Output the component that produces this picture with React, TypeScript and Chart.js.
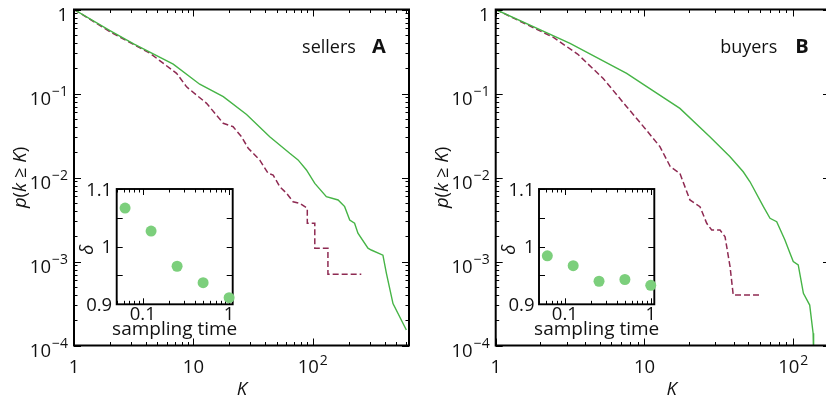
import React, { useEffect, useRef } from "react";
import { Chart, registerables } from "chart.js";
Chart.register(...registerables);

const FONT = "'Open Sans', 'DejaVu Sans', sans-serif";
const GREEN = "#46b446";
const RED = "#8e2a52";
const DOT = "#7ccf7c";

// Panel A: sellers
const sellersGreenK = [1, 2.0, 3.16, 6.78, 11.3, 17.8, 27.9, 43.6, 64.1, 75.3, 88.5, 104, 130, 163, 185, 204, 224, 239, 290, 309, 387, 414, 470, 608];
const sellersGreenP = [1, 0.562, 0.389, 0.224, 0.129, 0.0916, 0.0562, 0.0306, 0.0194, 0.0162, 0.0123, 0.00851, 0.00592, 0.0054, 0.0045, 0.00312, 0.00285, 0.00217, 0.00144, 0.00137, 0.00119, 0.000724, 0.000316, 0.000153];
const sellersRedK = [1, 2.0, 4.33, 7.23, 8.77, 12.9, 17.8, 21.5, 25.3, 28.8, 36.0, 42.3, 46.6, 53.0, 60.3, 68.4, 77.8, 90, 90, 104, 104, 134, 134, 255];
const sellersRedP = [1, 0.545, 0.301, 0.174, 0.12, 0.0764, 0.0442, 0.0403, 0.0306, 0.0223, 0.0161, 0.0112, 0.0107, 0.00776, 0.00649, 0.00515, 0.00493, 0.0043, 0.00285, 0.00285, 0.00144, 0.00144, 0.000703, 0.000703];

// Panel B: buyers
const buyersGreenK = [1, 3.16, 7.59, 10, 17.3, 27.5, 37.6, 46.1, 51.2, 63.0, 69.8, 77.4, 87.9, 95.1, 100, 108, 117, 129, 136, 137];
const buyersGreenP = [1, 0.396, 0.174, 0.126, 0.0665, 0.0306, 0.0177, 0.0117, 0.0089, 0.0045, 0.00327, 0.00298, 0.0018, 0.00125, 0.001, 0.000912, 0.000418, 0.000303, 0.00014, 0.0000794];
const buyersRedK = [1, 1.58, 2.43, 3.55, 5.28, 7.59, 10.3, 12.7, 14.9, 17.3, 20.2, 23.6, 26.2, 28.3, 32.2, 34.8, 37.6, 39.5, 61.2];
const buyersRedP = [1, 0.676, 0.468, 0.295, 0.151, 0.0697, 0.0367, 0.0233, 0.0135, 0.0112, 0.0054, 0.0045, 0.00285, 0.00237, 0.00237, 0.00197, 0.000867, 0.000399, 0.000399];

// Insets
const samplingTime = [0.0625, 0.125, 0.25, 0.5, 1];
const sellersDelta = [1.067, 1.027, 0.966, 0.9375, 0.9115];
const buyersDelta = [0.984, 0.967, 0.94, 0.943, 0.933];

// Tick labels
const mainXTickValues = [1, 10, 100];
const mainXTickBase = ["1", "10", "10"];
const mainXTickExp = ["", "", "2"];
const mainYTickValues = [1, 0.1, 0.01, 0.001, 0.0001];
const mainYTickBase = ["1", "10", "10", "10", "10"];
const mainYTickExp = ["", "\u22121", "\u22122", "\u22123", "\u22124"];
const insetXTickValues = [0.1, 1];
const insetXTickLabels = ["0.1", "1"];
const insetYTickValues = [0.9, 1, 1.1];
const insetYTickLabels = ["0.9", "1", "1.1"];
const insetYMinor = [0.95, 1.05];

const TICK_SIZE = 18.5;
const SUP_SIZE = 14;

function logTicks(min: number, max: number) {
  const out: { v: number; major: boolean }[] = [];
  for (let d = Math.floor(Math.log10(min)) - 1; d <= Math.ceil(Math.log10(max)); d++) {
    for (let m = 1; m <= 9; m++) {
      const v = m * Math.pow(10, d);
      if (v >= min * 0.9999 && v <= max * 1.0001) out.push({ v, major: m === 1 });
    }
  }
  return out;
}

function drawPow(ctx: CanvasRenderingContext2D, base: string, exp: string, x: number, baseline: number, align: string) {
  ctx.font = `${TICK_SIZE}px ${FONT}`;
  const wb = ctx.measureText(base).width;
  let we = 0;
  if (exp) {
    ctx.font = `${SUP_SIZE}px ${FONT}`;
    we = ctx.measureText(exp).width + 1;
  }
  const total = wb + we;
  const x0 = align === "left" ? x : align === "right" ? x - total : x - total / 2;
  ctx.textAlign = "left";
  ctx.textBaseline = "alphabetic";
  ctx.font = `${TICK_SIZE}px ${FONT}`;
  ctx.fillText(base, x0, baseline);
  if (exp) {
    ctx.font = `${SUP_SIZE}px ${FONT}`;
    ctx.fillText(exp, x0 + wb + 1, baseline - 8.5);
  }
}

type MainProps = {
  left: number;
  width: number;
  pad: { left: number; top: number; right: number; bottom: number };
  xMax: number;
  greenK: number[];
  greenP: number[];
  redK: number[];
  redP: number[];
  title: string;
  letter: string;
  titleX: number;
  letterX: number;
  kX: number;
};

function MainPanel(p: MainProps) {
  const ref = useRef<HTMLCanvasElement>(null);
  useEffect(() => {
    const canvas = ref.current!;
    const plugin = {
      id: "mainFrame",
      afterDraw(chart: any) {
        const ctx: CanvasRenderingContext2D = chart.ctx;
        const a = chart.chartArea;
        const xs = chart.scales.x;
        const ys = chart.scales.y;
        ctx.save();
        ctx.strokeStyle = "#000";
        ctx.fillStyle = "#111";
        ctx.lineWidth = 1;
        ctx.beginPath();
        for (const t of logTicks(1, p.xMax)) {
          const x = Math.round(xs.getPixelForValue(t.v)) + 0.5;
          const len = t.major ? 7 : 3.5;
          ctx.moveTo(x, a.bottom);
          ctx.lineTo(x, a.bottom - len);
          ctx.moveTo(x, a.top);
          ctx.lineTo(x, a.top + len);
        }
        for (const t of logTicks(1e-4, 1)) {
          const y = Math.round(ys.getPixelForValue(t.v)) + 0.5;
          const len = t.major ? 7 : 3.5;
          ctx.moveTo(a.left, y);
          ctx.lineTo(a.left + len, y);
          ctx.moveTo(a.right, y);
          ctx.lineTo(a.right - len, y);
        }
        ctx.stroke();
        ctx.lineWidth = 2;
        ctx.strokeRect(a.left, a.top, a.right - a.left, a.bottom - a.top);

        mainXTickValues.forEach((v, i) => {
          drawPow(ctx, mainXTickBase[i], mainXTickExp[i], xs.getPixelForValue(v), a.bottom + 27.5, "center");
        });
        mainYTickValues.forEach((v, i) => {
          drawPow(ctx, mainYTickBase[i], mainYTickExp[i], a.left - 6, ys.getPixelForValue(v) + 11, "right");
        });

        // x-axis title
        ctx.font = `italic ${TICK_SIZE}px ${FONT}`;
        ctx.textAlign = "center";
        ctx.textBaseline = "alphabetic";
        ctx.fillText("K", p.kX, 395);

        // y-axis title
        const segs: [string, boolean][] = [["p", true], ["(", false], ["k", true], [" \u2265 ", false], ["K", true], [")", false]];
        ctx.save();
        ctx.translate(a.left - 53, 177.5);
        ctx.rotate(-Math.PI / 2);
        let total = 0;
        const widths = segs.map(([s, it]) => {
          ctx.font = `${it ? "italic " : ""}${TICK_SIZE}px ${FONT}`;
          const w = ctx.measureText(s).width;
          total += w;
          return w;
        });
        let cx = -total / 2;
        ctx.textAlign = "left";
        ctx.textBaseline = "middle";
        segs.forEach(([s, it], i) => {
          ctx.font = `${it ? "italic " : ""}${TICK_SIZE}px ${FONT}`;
          ctx.fillText(s, cx, 0);
          cx += widths[i];
        });
        ctx.restore();

        // panel title
        ctx.textAlign = "center";
        ctx.textBaseline = "alphabetic";
        ctx.font = `18px ${FONT}`;
        ctx.fillText(p.title, p.titleX, 53);
        ctx.font = `bold 20px ${FONT}`;
        ctx.fillText(p.letter, p.letterX, 53);
        ctx.restore();
      },
    };
    const chart = new Chart(canvas, {
      type: "line",
      data: {
        datasets: [
          {
            data: p.greenK.map((k, i) => ({ x: k, y: p.greenP[i] })),
            borderColor: GREEN,
            borderWidth: 1.4,
            pointRadius: 0,
            fill: false,
            tension: 0,
          },
          {
            data: p.redK.map((k, i) => ({ x: k, y: p.redP[i] })),
            borderColor: RED,
            borderWidth: 1.5,
            borderDash: [6, 3],
            pointRadius: 0,
            fill: false,
            tension: 0,
          },
        ],
      },
      options: {
        responsive: false,
        maintainAspectRatio: false,
        animation: false,
        events: [],
        layout: { padding: p.pad },
        plugins: { legend: { display: false }, tooltip: { enabled: false } },
        scales: {
          x: { type: "logarithmic", min: 1, max: p.xMax, display: false },
          y: { type: "logarithmic", min: 1e-4, max: 1, display: false },
        },
      } as any,
      plugins: [plugin],
    });
    return () => chart.destroy();
  }, []);
  return (
    <canvas
      ref={ref}
      width={p.width}
      height={404}
      style={{ position: "absolute", left: p.left, top: 0, width: p.width, height: 404 }}
    />
  );
}

type InsetProps = {
  left: number;
  top: number;
  pad: { left: number; top: number; right: number; bottom: number };
  delta: number[];
};

function Inset(p: InsetProps) {
  const ref = useRef<HTMLCanvasElement>(null);
  useEffect(() => {
    const canvas = ref.current!;
    const plugin = {
      id: "insetFrame",
      beforeDatasetsDraw(chart: any) {
        const ctx: CanvasRenderingContext2D = chart.ctx;
        const a = chart.chartArea;
        const xs = chart.scales.x;
        const ys = chart.scales.y;
        ctx.save();
        ctx.fillStyle = "#fff";
        ctx.fillRect(a.left, a.top, a.right - a.left, a.bottom - a.top);
        ctx.strokeStyle = "#000";
        ctx.lineWidth = 1;
        ctx.beginPath();
        for (const t of logTicks(0.05, 1.1)) {
          const x = Math.round(xs.getPixelForValue(t.v)) + 0.5;
          const len = t.major ? 6 : 3.5;
          ctx.moveTo(x, a.bottom);
          ctx.lineTo(x, a.bottom - len);
          ctx.moveTo(x, a.top);
          ctx.lineTo(x, a.top + len);
        }
        for (const v of [...insetYTickValues, ...insetYMinor]) {
          const y = Math.round(ys.getPixelForValue(v)) + 0.5;
          ctx.moveTo(a.left, y);
          ctx.lineTo(a.left + 6, y);
          ctx.moveTo(a.right, y);
          ctx.lineTo(a.right - 6, y);
        }
        ctx.stroke();
        ctx.lineWidth = 1.9;
        ctx.strokeRect(a.left, a.top, a.right - a.left, a.bottom - a.top);
        ctx.restore();
      },
      afterDraw(chart: any) {
        const ctx: CanvasRenderingContext2D = chart.ctx;
        const a = chart.chartArea;
        const xs = chart.scales.x;
        const ys = chart.scales.y;
        ctx.save();
        ctx.fillStyle = "#111";
        ctx.font = `${TICK_SIZE}px ${FONT}`;
        ctx.textBaseline = "alphabetic";
        ctx.textAlign = "right";
        insetYTickValues.forEach((v, i) => {
          ctx.fillText(insetYTickLabels[i], a.left - 4.5, ys.getPixelForValue(v) + 6.5);
        });
        ctx.textAlign = "center";
        insetXTickValues.forEach((v, i) => {
          ctx.fillText(insetXTickLabels[i], xs.getPixelForValue(v), a.bottom + 16);
        });
        ctx.font = `19px ${FONT}`;
        ctx.fillText("sampling time", (a.left + a.right) / 2, a.bottom + 31);
        ctx.save();
        ctx.translate(a.left - 29, (a.top + a.bottom) / 2 + 3);
        ctx.rotate(-Math.PI / 2);
        ctx.font = `italic ${TICK_SIZE}px ${FONT}`;
        ctx.textBaseline = "middle";
        ctx.fillText("\u03b4", 0, 0);
        ctx.restore();
        ctx.restore();
      },
    };
    const chart = new Chart(canvas, {
      type: "scatter",
      data: {
        datasets: [
          {
            data: samplingTime.map((t, i) => ({ x: t, y: p.delta[i] })),
            backgroundColor: DOT,
            borderWidth: 0,
            pointRadius: 5.5,
            clip: false,
          },
        ],
      },
      options: {
        responsive: false,
        maintainAspectRatio: false,
        animation: false,
        events: [],
        layout: { padding: p.pad },
        plugins: { legend: { display: false }, tooltip: { enabled: false } },
        scales: {
          x: { type: "logarithmic", min: 0.05, max: 1.1, display: false },
          y: { type: "linear", min: 0.9, max: 1.1, display: false },
        },
      } as any,
      plugins: [plugin],
    });
    return () => chart.destroy();
  }, []);
  return (
    <canvas
      ref={ref}
      width={170}
      height={170}
      style={{ position: "absolute", left: p.left, top: p.top, width: 170, height: 170 }}
    />
  );
}

export default function App() {
  return (
    <div
      style={{
        position: "fixed",
        left: 0,
        top: 0,
        width: 826,
        height: 404,
        overflow: "hidden",
        background: "#fff",
      }}
    >
      <MainPanel
        left={0}
        width={413}
        pad={{ left: 74, top: 9.5, right: 4, bottom: 58.5 }}
        xMax={640}
        greenK={sellersGreenK}
        greenP={sellersGreenP}
        redK={sellersRedK}
        redP={sellersRedP}
        title="sellers"
        letter="A"
        titleX={329}
        letterX={379}
        kX={242}
      />
      <MainPanel
        left={413}
        width={420}
        pad={{ left: 82.7, top: 9.5, right: 3, bottom: 58.5 }}
        xMax={176.6}
        greenK={buyersGreenK}
        greenP={buyersGreenP}
        redK={buyersRedK}
        redP={buyersRedP}
        title="buyers"
        letter="B"
        titleX={748.7 - 413}
        letterX={802 - 413}
        kX={671.7 - 413}
      />
      <Inset left={75} top={175} pad={{ left: 41.7, top: 14, right: 12.3, bottom: 40.7 }} delta={sellersDelta} />
      <Inset left={498} top={175} pad={{ left: 41, top: 14, right: 13.7, bottom: 40.7 }} delta={buyersDelta} />
    </div>
  );
}
